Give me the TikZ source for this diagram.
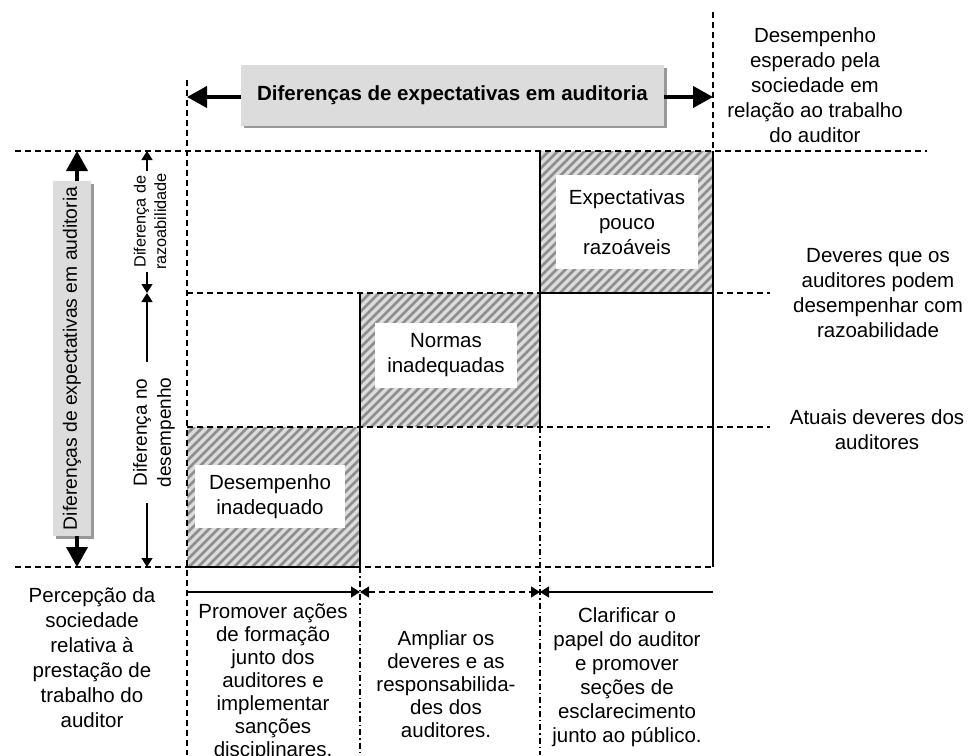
\documentclass[tikz,border=0pt]{standalone}
\usepackage{fontspec}
\setmainfont{Liberation Sans}
\usetikzlibrary{arrows.meta}
\definecolor{boxgray}{HTML}{DCDCDC}
\definecolor{shadowgray}{HTML}{999999}
\definecolor{hatchgray}{HTML}{8E8E8E}
\tikzset{
  griddash/.style={line width=1.4pt, dash pattern=on 6pt off 4pt},
  griddashdot/.style={line width=1.2pt, dash pattern=on 6pt off 3pt on 1.5pt off 3pt},
  solidline/.style={line width=1.1pt},
  hatchbg/.style={fill=boxgray},
  hatchline/.style={draw=hatchgray, line width=2.6pt},
  whitelabel/.style={fill=white, align=center, inner sep=0pt, font=\fontsize{20.5}{25}\selectfont},
  txt/.style={align=center, inner sep=0pt, font=\fontsize{20.5}{25}\selectfont},
  txtb/.style={align=center, inner sep=0pt, font=\fontsize{20.5}{23}\selectfont},
  bigarrow/.style={line width=4pt, -{Triangle[length=20pt,width=21pt]}},
  thinarrow/.style={line width=1.3pt, -{Triangle[length=9pt,width=11pt]}},
  thinboth/.style={{Triangle[length=9pt,width=11pt]}-{Triangle[length=9pt,width=11pt]}},
  graybox/.style={fill=boxgray, inner sep=0pt, align=center},
}
\newcommand\myhatchcell[4]{%
  \begin{scope}
    \fill[hatchbg] (#1,#2) rectangle (#3,#4);
    \clip (#1,#2) rectangle (#3,#4);
    \foreach \k in {0,...,42} \draw[hatchline] ({#1-160+\k*9},#4) -- ++(160,-160);
  \end{scope}}
\begin{document}
\begin{tikzpicture}[x=1pt,y=-1pt]
\useasboundingbox (0,0) rectangle (968,755);
\fill[white] (0,0) rectangle (968,755);

% hatched cells
\myhatchcell{187}{427}{360}{567}
\myhatchcell{360}{293}{540}{427}
\myhatchcell{540}{151}{713}{293}

% dashed grid
\draw[griddash] (15,151) -- (927,151);
\draw[griddash] (187,293) -- (770,293);
\draw[griddash] (187,427) -- (770,427);
\draw[griddash] (15,567) -- (713,567);
\draw[griddash] (187,80) -- (187,755);
\draw[griddash] (713,12) -- (713,151);
% solid edges
\draw[solidline] (360,293) -- (360,567);
\draw[solidline] (540,151) -- (540,427);
\draw[solidline] (713,151) -- (713,567);
\draw[solidline] (540,293) -- (713,293);
\draw[solidline] (187,567) -- (360,567);
% dash-dot
\draw[griddashdot] (360,567) -- (360,755);
\draw[griddashdot] (540,427) -- (540,755);

% inner white labels
\node[whitelabel, minimum width=142pt, minimum height=94pt] (expl) at (627,222) {Expectativas\\pouco\\razoáveis};
\node[whitelabel, minimum width=142pt, minimum height=65pt] (norl) at (446,355.5) {Normas\\inadequadas};
\node[whitelabel, minimum width=150pt, minimum height=63pt] (desl) at (270,496.5) {Desempenho\\inadequado};

% header box
\fill[shadowgray] (244,68) rectangle (667,128);
\node[graybox, minimum width=423pt, minimum height=61pt, font=\bfseries\fontsize{20.5}{25}\selectfont] (hbox) at (452.5,95.5) {Diferenças de expectativas em auditoria};
\coordinate (hl) at (187,97);
\coordinate (hr) at (713,97);
\draw[bigarrow] (hbox.west |- hl) -- (hl);
\draw[bigarrow] (hbox.east |- hr) -- (hr);

% left vertical box
\fill[shadowgray] (56,184) rectangle (94,539);
\node[graybox, rotate=90, minimum width=355pt, minimum height=38pt, font=\fontsize{19.3}{24}\selectfont] (lbox) at (72,358.5) {Diferenças de expectativas em auditoria};
\coordinate (lt) at (77,151);
\coordinate (lb) at (77,567);
\draw[bigarrow] (lbox.east -| lt) -- (lt);
\draw[bigarrow] (lbox.west -| lb) -- (lb);

% gap labels
\node[rotate=90, align=center, inner xsep=2pt, inner ysep=0pt, font=\fontsize{16.3}{20.5}\selectfont] (razlab) at (150,221.5) {Diferença de\\razoabilidade};
\node[rotate=90, align=center, inner xsep=15pt, inner ysep=0pt, font=\fontsize{19}{24}\selectfont] (deslab) at (154,432.5) {Diferença no\\desempenho};
\coordinate (rt) at (147,151);
\coordinate (rm) at (147,293);
\coordinate (rb) at (147,567);
\draw[thinarrow] (razlab.east -| rt) -- (rt);
\draw[thinarrow] (razlab.west -| rm) -- (rm);
\draw[thinarrow] (deslab.east -| rm) -- (rm);
\draw[thinarrow] (deslab.west -| rb) -- (rb);

% bottom arrows
\coordinate (b0) at (187,592);
\coordinate (b1) at (360,592);
\coordinate (b2) at (540,592);
\coordinate (b3) at (713,592);
\draw[thinarrow] (b0) -- (b1);
\draw[line width=1.3pt, dash pattern=on 6pt off 4pt, thinboth] (b1) -- (b2);
\draw[thinarrow] (b3) -- (b2);

% right texts
\node[txt] (t1) at (815,85) {Desempenho\\esperado pela\\sociedade em\\relação ao trabalho\\do auditor};
\node[txt] (t2) at (878,293.5) {Deveres que os\\auditores podem\\desempenhar com\\razoabilidade};
\node[txt] (t3) at (877,429.5) {Atuais deveres dos\\auditores};

% bottom texts
\node[txt] (p1) at (92,657.5) {Percepção da\\sociedade\\relativa à\\prestação de\\trabalho do\\auditor};
\node[txtb] (p2) at (273,682) {Promover ações\\de formação\\junto dos\\auditores e\\implementar\\sanções\\disciplinares.};
\node[txtb] (p3) at (446,684) {Ampliar os\\deveres e as\\responsabilida-\\des dos\\auditores.};
\node[txtb, font=\fontsize{20.5}{24}\selectfont] (p4) at (627,677) {Clarificar o\\papel do auditor\\e promover\\seções de\\esclarecimento\\junto ao público.};
\end{tikzpicture}
\end{document}
